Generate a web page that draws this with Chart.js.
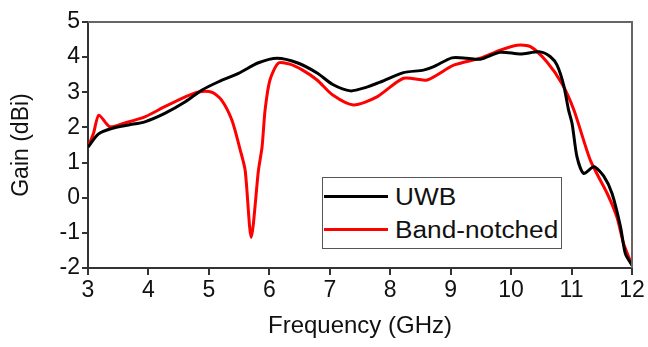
<!DOCTYPE html>
<html>
<head>
<meta charset="utf-8">
<script src="https://cdn.jsdelivr.net/npm/chart.js@4.4.1/dist/chart.umd.min.js"></script>
<style>
    html, body { margin: 0; padding: 0; background: #ffffff; }
    #wrap { position: relative; width: 648px; height: 347px; }
    #legend_box {
        position: absolute; left: 322px; top: 177px; width: 238px; height: 70px;
        border: 1px solid #555; background: #fff;
        font-family: 'Liberation Sans', Arial, sans-serif; font-size: 23px; color: #111;
    }
    .leg_row { position: absolute; left: 0; height: 30px; width: 100%; }
    .leg_line { position: absolute; left: 1px; width: 64px; height: 3px; top: 13px; }
    .leg_text { position: absolute; left: 72px; top: 1px; line-height: 28px; white-space: nowrap;
        transform: scaleX(1.14); transform-origin: left center; }
</style>
</head>
<body>
<div id="wrap">
    <canvas id="gain_graph"></canvas>
    <div id="legend_box"></div>
</div>
<script>
// UWB antenna
var uwb_freq = [3.0, 3.17, 3.39, 3.67, 3.94, 4.27, 4.61, 4.88, 5.16, 5.49, 5.82, 6.13, 6.46, 6.79, 7.05, 7.34, 7.6, 7.85,
    8.22, 8.55, 8.72, 9.02, 9.27, 9.49, 9.82, 10.15, 10.48, 10.65, 10.76, 10.87, 10.95, 11.01, 11.09, 11.2, 11.37,
    11.53, 11.67, 11.81, 11.89, 12.0];
var uwb_gain = [1.44, 1.81, 1.97, 2.07, 2.16, 2.40, 2.73, 3.06, 3.30, 3.54, 3.84, 3.97, 3.84, 3.55, 3.22, 3.04, 3.14, 3.3,
    3.56, 3.63, 3.73, 3.98, 3.97, 3.94, 4.14, 4.09, 4.15, 4.01, 3.77, 3.2, 2.5, 2.1, 1.16, 0.69, 0.88,
    0.62, 0.12, -0.83, -1.59, -1.92];

// band-notched antenna
var notch_freq = [3.0, 3.09, 3.18, 3.36, 3.61, 3.94, 4.27, 4.61, 4.83, 5.05, 5.21, 5.38, 5.52, 5.6, 5.7, 5.82, 5.88,
    5.93, 6.01, 6.15, 6.34, 6.55, 6.79, 7.05, 7.39, 7.78, 8.22, 8.61, 9.05, 9.49, 9.82, 10.1, 10.32, 10.59, 10.84,
    11.04, 11.31, 11.59, 11.75, 11.86, 12.0];
var notch_gain = [1.44, 1.83, 2.35, 2.02, 2.13, 2.30, 2.59, 2.87, 3.01, 3.0, 2.78, 2.21, 1.35, 0.78, -1.13, 0.78, 1.45,
    2.5, 3.35, 3.83, 3.8, 3.63, 3.35, 2.92, 2.64, 2.87, 3.40, 3.35, 3.77, 3.97, 4.2, 4.34, 4.30, 3.87, 3.25,
    2.49, 1.07, 0.12, -0.55, -1.3, -1.92];

var series_labels = ['UWB', 'Band-notched'];
var series_colors = ['#000000', '#ff0000'];
var x_ticks = [3, 4, 5, 6, 7, 8, 9, 10, 11, 12];
var y_ticks = [-2, -1, 0, 1, 2, 3, 4, 5];

function pairs(xs, ys){
    var out = [];
    for(var i=0; i<xs.length; i++){
        out.push({x: xs[i], y: ys[i]});
    }
    return out;
}

var font_family = "'Liberation Sans', Arial, sans-serif";

//draws top and right edge of the plot box
var frame_plugin = {
    id: 'frame',
    afterDatasetsDraw: function(chart){
        var a = chart.chartArea;
        var ctx = chart.ctx;
        ctx.save();
        ctx.strokeStyle = '#666666';
        ctx.lineWidth = 2;
        ctx.beginPath();
        ctx.moveTo(a.left, a.top);
        ctx.lineTo(a.right, a.top);
        ctx.lineTo(a.right, a.bottom);
        ctx.stroke();
        ctx.restore();
    }
};

var chart = new Chart(document.getElementById('gain_graph').getContext('2d'), {
    type: 'line',
    data: {
        datasets: [{
            label: series_labels[0],
            data: pairs(uwb_freq, uwb_gain),
            borderColor: series_colors[0],
            borderWidth: 3,
            pointRadius: 0,
            tension: 0.25,
        },{
            label: series_labels[1],
            data: pairs(notch_freq, notch_gain),
            borderColor: series_colors[1],
            borderWidth: 3,
            pointRadius: 0,
            tension: 0.25,
        }]
    },
    options: {
        responsive: true,
        maintainAspectRatio: false,
        devicePixelRatio: 1,
        animation: false,
        layout: { padding: { top: 22, right: 16, left: 0, bottom: 0 } },
        scales: {
            x: {
                type: 'linear',
                min: 3,
                max: 12,
                afterBuildTicks: function(scale){
                    scale.ticks = x_ticks.map(function(v){ return {value: v}; });
                },
                afterFit: function(scale){ scale.height = 79; },
                ticks: {
                    color: '#111111',
                    padding: 2,
                    maxRotation: 0,
                    font: { family: font_family, size: 23 },
                },
                grid: { drawOnChartArea: false, tickLength: 7, color: '#333333', lineWidth: 2 },
                border: { color: '#333333', width: 2 },
                title: {
                    display: true,
                    text: 'Frequency (GHz)',
                    color: '#111111',
                    font: { family: font_family, size: 24 },
                    padding: { top: 0, bottom: 6 },
                }
            },
            y: {
                min: -2,
                max: 5,
                afterBuildTicks: function(scale){
                    scale.ticks = y_ticks.map(function(v){ return {value: v}; });
                },
                afterFit: function(scale){ scale.width = 88; },
                ticks: {
                    color: '#111111',
                    padding: 2,
                    font: { family: font_family, size: 23 },
                },
                grid: { drawOnChartArea: false, tickLength: 6, color: '#333333', lineWidth: 2 },
                border: { color: '#333333', width: 2 },
                title: {
                    display: true,
                    text: 'Gain (dBi)',
                    color: '#111111',
                    font: { family: font_family, size: 23 },
                    padding: { top: 8, bottom: 0 },
                }
            }
        },
        plugins: {
            legend: { display: false },
            tooltip: { enabled: false }
        }
    },
    plugins: [frame_plugin]
});

//legend inside the plot, built from the datasets
var legend_box = document.getElementById('legend_box');
chart.data.datasets.forEach(function(ds, i){
    var row = document.createElement('div');
    row.className = 'leg_row';
    row.style.top = (4 + i*33) + 'px';
    var line = document.createElement('div');
    line.className = 'leg_line';
    line.style.background = ds.borderColor;
    var txt = document.createElement('span');
    txt.className = 'leg_text';
    txt.textContent = ds.label;
    row.appendChild(line);
    row.appendChild(txt);
    legend_box.appendChild(row);
});
</script>
</body>
</html>
